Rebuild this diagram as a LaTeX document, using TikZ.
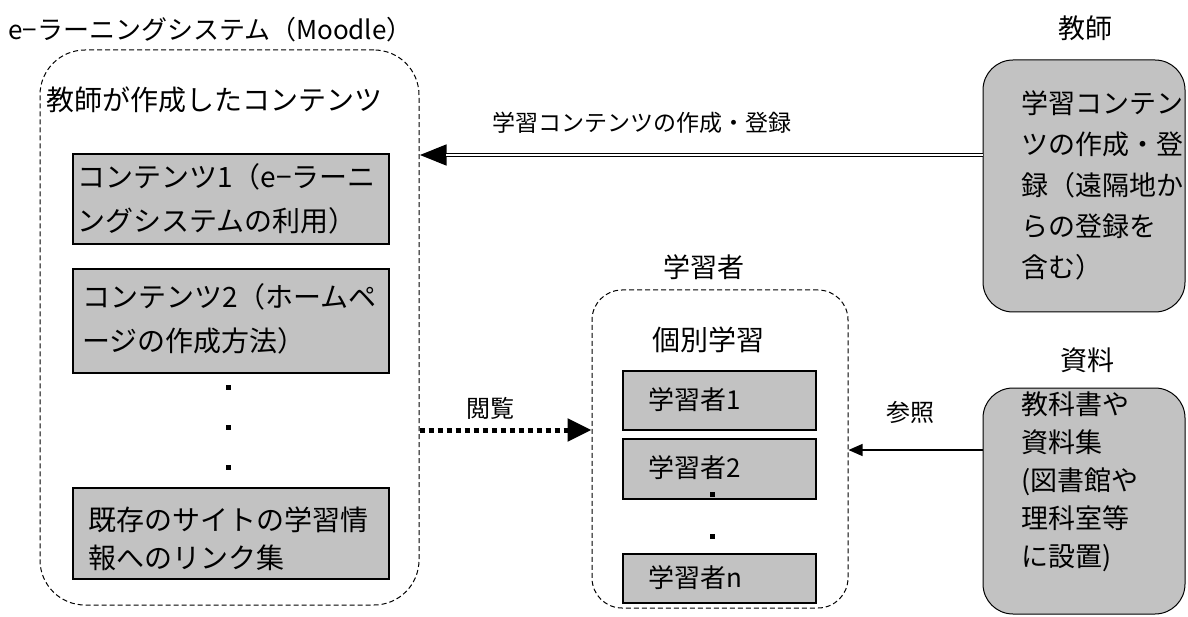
\documentclass[tikz,border=0pt]{standalone}
\usepackage{fontspec}
\setmainfont{Noto Sans CJK JP}
\usetikzlibrary{arrows.meta}
\begin{document}
\begin{tikzpicture}[x=1pt,y=-1pt,
  grp/.style={draw, dash pattern=on 5pt off 3pt, line width=1pt, rounded corners=#1, inner sep=0pt},
  cbox/.style={draw, fill=gray!48, line width=1.6pt, align=left, anchor=north west, inner sep=0pt},
  tbox/.style={draw, fill=gray!48, line width=1pt, rounded corners=30pt, inner sep=0pt},
  lbl/.style={font=\fontsize{25}{30}\selectfont, inner sep=0pt},
  boxtxt/.style={font=\fontsize{28}{#1}\selectfont, align=left, inner sep=0pt},
  sidetxt/.style={font=\fontsize{27}{#1}\selectfont, align=left, inner sep=0pt},
  stxt/.style={font=\fontsize{26}{30}\selectfont, inner sep=0pt},
  dot/.style={fill=black, inner sep=0pt, minimum size=5pt}
]
\useasboundingbox (0,0) rectangle (1188,617);

% left group
\node[lbl, font=\fontsize{26}{30}\selectfont, anchor=west] (ttl) at (8,30) {e−ラーニングシステム（Moodle）};
\node[grp=45pt, minimum width=379pt, minimum height=555pt] (lms) at (229.5,327.5) {};
\node[font=\fontsize{28}{32}\selectfont, inner sep=0pt, anchor=west] (made) at (46,100) {教師が作成したコンテンツ};

\node[cbox, minimum width=316pt, minimum height=90pt] (c1) at (72,153) {};
\node[boxtxt=44, anchor=west] (c1t) at (77,199) {コンテンツ1（e−ラーニ\\ングシステムの利用）};
\node[cbox, minimum width=316pt, minimum height=104pt] (c2) at (72,268) {};
\node[boxtxt=44, anchor=west] (c2t) at (82,319) {コンテンツ2（ホームペ\\ージの作成方法）};
\node[dot] (d1) at (228,387) {};
\node[dot] (d2) at (228,427) {};
\node[dot] (d3) at (228,467) {};
\node[cbox, minimum width=316pt, minimum height=91pt] (c3) at (72,487) {};
\node[boxtxt=38, anchor=west] (c3t) at (88,539) {既存のサイトの学習情\\報へのリンク集};

% middle group
\node[lbl, font=\fontsize{27}{30}\selectfont] (lrn) at (704,267) {学習者};
\node[grp=30pt, minimum width=256pt, minimum height=318pt] (learners) at (720,449) {};
\node[font=\fontsize{28}{30}\selectfont, inner sep=0pt] (kobetsu) at (708,340) {個別学習};
\node[cbox, minimum width=193pt, minimum height=59pt] (s1) at (622,370) {};
\node[stxt, anchor=west] (s1t) at (648,400) {学習者1};
\node[cbox, minimum width=193pt, minimum height=60pt] (s2) at (622,438) {};
\node[stxt, anchor=west] (s2t) at (648,468) {学習者2};
\node[dot] (d4) at (712,494) {};
\node[dot] (d5) at (712,536) {};
\node[cbox, minimum width=193pt, minimum height=49pt] (s3) at (622,553) {};
\node[stxt, anchor=west] (s3t) at (648,578) {学習者n};

% right side
\node[lbl, font=\fontsize{27}{30}\selectfont] (kyoshi) at (1085,28) {教師};
\node[tbox, minimum width=202pt, minimum height=252pt] (teacher) at (1084,186) {};
\node[sidetxt=41, anchor=west] (teachert) at (1021,185) {学習コンテン\\ツの作成・登\\録（遠隔地か\\らの登録を\\含む）};

\node[lbl, font=\fontsize{27}{30}\selectfont] (shiryo) at (1087,360) {資料};
\node[tbox, minimum width=202pt, minimum height=226pt] (mat) at (1084,501) {};
\node[sidetxt=38, anchor=west] (matt) at (1021,482) {教科書や\\資料集\\(図書館や\\理科室等\\に設置)};

% connectors
\draw[line width=4.5pt, -{Triangle[length=27pt,width=20pt]}] (teacher.west |- 0,155) -- (lms.east |- 0,155);
\draw[white, line width=1.6pt] (teacher.west |- 0,155) -- ([xshift=26pt]lms.east |- 0,155);
\node[font=\fontsize{23}{28}\selectfont, inner sep=0pt] (l1) at (642,123) {学習コンテンツの作成・登録};

\draw[line width=5pt, dash pattern=on 5pt off 4pt, -{Triangle[length=24pt,width=22pt]}] (lms.east |- 0,430) -- (learners.west |- 0,430);
\node[lbl, font=\fontsize{24}{28}\selectfont] (l2) at (490,408) {閲覧};

\draw[line width=1.2pt, -{Triangle[length=14pt,width=12pt]}] (mat.west |- 0,450) -- (learners.east |- 0,450);
\node[lbl, font=\fontsize{24}{28}\selectfont] (l3) at (910,412) {参照};
\end{tikzpicture}
\end{document}
